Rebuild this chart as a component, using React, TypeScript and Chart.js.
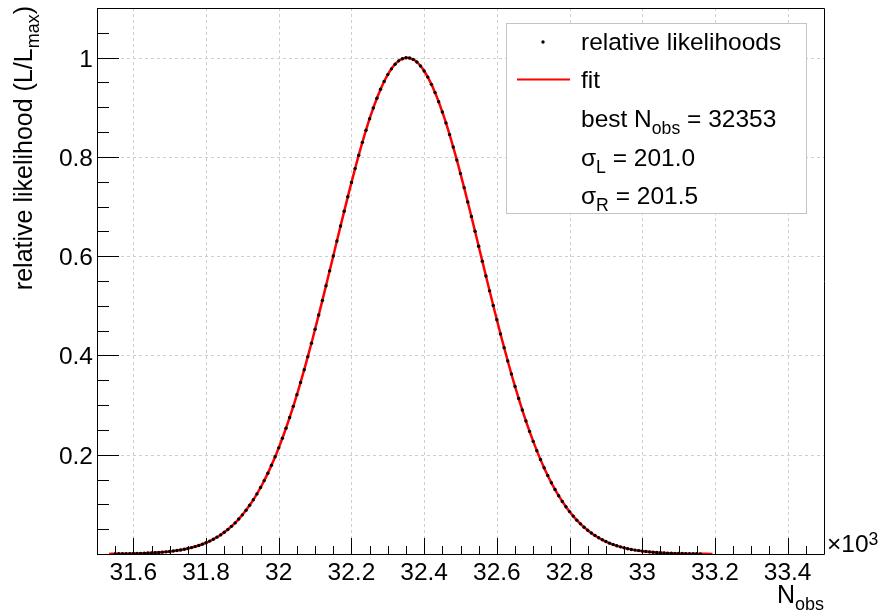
import React, { useEffect, useRef } from "react";
import { Chart, registerables } from "chart.js";

Chart.register(...registerables);

// Likelihood scan: one point every SCAN_STEP events, starting at SCAN_START
const SCAN_START = 31550;
const SCAN_STEP = 10;
const RELATIVE_LIKELIHOODS = [
  0.0003, 0.0004, 0.0005, 0.0006, 0.0007, 0.0009, 0.0011, 0.0013, 0.0016, 0.0019,
  0.0022, 0.0026, 0.0031, 0.0037, 0.0043, 0.0051, 0.006, 0.007, 0.0082, 0.0096,
  0.0111, 0.0129, 0.0149, 0.0172, 0.0198, 0.0227, 0.026, 0.0297, 0.0339, 0.0385,
  0.0437, 0.0494, 0.0557, 0.0627, 0.0704, 0.0789, 0.0881, 0.0982, 0.1092, 0.1211,
  0.134, 0.1479, 0.1628, 0.1788, 0.1958, 0.2139, 0.2332, 0.2535, 0.275, 0.2975,
  0.321, 0.3456, 0.3711, 0.3976, 0.4248, 0.4529, 0.4815, 0.5108, 0.5404, 0.5704,
  0.6005, 0.6307, 0.6607, 0.6905, 0.7198, 0.7485, 0.7764, 0.8034, 0.8293, 0.8538,
  0.877, 0.8985, 0.9183, 0.9362, 0.9521, 0.9658, 0.9774, 0.9866, 0.9935, 0.9979,
  0.9999,
  0.9994, 0.9964, 0.9911, 0.9833, 0.9732, 0.9608, 0.9462, 0.9296, 0.911, 0.8906,
  0.8685, 0.8449, 0.8199, 0.7936, 0.7664, 0.7382, 0.7093, 0.6799, 0.6501, 0.6201,
  0.59, 0.56, 0.5302, 0.5007, 0.4718, 0.4434, 0.4157, 0.3887, 0.3626, 0.3375,
  0.3133, 0.2901, 0.268, 0.247, 0.227, 0.2082, 0.1904, 0.1737, 0.1581, 0.1436,
  0.13, 0.1175, 0.1059, 0.0952, 0.0854, 0.0764, 0.0682, 0.0607, 0.0539, 0.0478,
  0.0422, 0.0372, 0.0327, 0.0287, 0.0251, 0.0219, 0.0191, 0.0166, 0.0144, 0.0124,
  0.0107, 0.0092, 0.0079, 0.0068, 0.0058, 0.0049, 0.0042, 0.0035, 0.003, 0.0025,
  0.0021, 0.0018, 0.0015, 0.0012, 0.001, 0.0009, 0.0007, 0.0006, 0.0005, 0.0004,
  0.0003,
];

// Fitted asymmetric Gaussian, tabulated every FIT_STEP from FIT_START
const FIT_START = 31533;
const FIT_STEP = 20;
const FIT_CURVE = [
  0.0002, 0.0004, 0.0005, 0.0008, 0.0011, 0.0016, 0.0023, 0.0033, 0.0046, 0.0063,
  0.0086, 0.0116, 0.0156, 0.0206, 0.0271, 0.0352, 0.0453, 0.0578, 0.0729, 0.0911,
  0.1127, 0.138, 0.1675, 0.2011, 0.2392, 0.2816, 0.3283, 0.379, 0.4332, 0.4902,
  0.5494, 0.6095, 0.6697, 0.7285, 0.7846, 0.8368, 0.8836, 0.9238, 0.9564, 0.9804, 0.9951,
  1.0,
  0.9951, 0.9805, 0.9566, 0.9242, 0.8841, 0.8375, 0.7856, 0.7296, 0.671, 0.611,
  0.551, 0.492, 0.435, 0.3808, 0.3301, 0.2834, 0.2409, 0.2027, 0.1689, 0.1394,
  0.1139, 0.0922, 0.0739, 0.0586, 0.046, 0.0358, 0.0276, 0.021, 0.0159, 0.0119,
  0.0088, 0.0064, 0.0047, 0.0034, 0.0024, 0.0017, 0.0012, 0.0008, 0.0006, 0.0004,
  0.0003, 0.0002,
];

const BEST_N_OBS = "32353";
const SIGMA_L = "201.0";
const SIGMA_R = "201.5";

const X_MIN = 31500;
const X_MAX = 33500;
const Y_MIN = 0;
const Y_MAX = 1.1;
const X_MAJOR_TICKS = [31600, 31800, 32000, 32200, 32400, 32600, 32800, 33000, 33200, 33400];
const X_TICK_LABELS = ["31.6", "31.8", "32", "32.2", "32.4", "32.6", "32.8", "33", "33.2", "33.4"];
const X_MINOR_STEP = 50;
const Y_MAJOR_TICKS = [0.2, 0.4, 0.6, 0.8, 1.0];
const Y_TICK_LABELS = ["0.2", "0.4", "0.6", "0.8", "1"];
const Y_MINOR_STEP = 0.05;

const FONT_FAMILY = '"Liberation Sans", Arial, Helvetica, sans-serif';
const TEXT_SIZE = 24.5;
const TITLE_SIZE = 25;
const SCRIPT_SCALE = 0.72;

type Part = { t: string; s?: "sub" | "sup" };

function fontOf(size: number) {
  return `${size}px ${FONT_FAMILY}`;
}

function drawRich(
  ctx: CanvasRenderingContext2D,
  parts: Part[],
  x: number,
  y: number,
  size: number,
  align: "left" | "right" | "center"
) {
  ctx.textAlign = "left";
  ctx.textBaseline = "alphabetic";
  const widths = parts.map((p) => {
    ctx.font = fontOf(p.s ? size * SCRIPT_SCALE : size);
    return ctx.measureText(p.t).width;
  });
  const total = widths.reduce((a, b) => a + b, 0);
  let cx = align === "right" ? x - total : align === "center" ? x - total / 2 : x;
  parts.forEach((p, i) => {
    ctx.font = fontOf(p.s ? size * SCRIPT_SCALE : size);
    const dy = p.s === "sub" ? size * 0.27 : p.s === "sup" ? -size * 0.3 : 0;
    ctx.fillText(p.t, cx, y + dy);
    cx += widths[i];
  });
}

const framePlugin = {
  id: "frameDecor",
  beforeDatasetsDraw(chart: any) {
    const { ctx, chartArea } = chart;
    const xs = chart.scales.x;
    const ys = chart.scales.y;
    ctx.save();
    ctx.strokeStyle = "#cfcfcf";
    ctx.lineWidth = 1;
    ctx.setLineDash([3, 3]);
    X_MAJOR_TICKS.forEach((v) => {
      const px = Math.round(xs.getPixelForValue(v)) + 0.5;
      ctx.beginPath();
      ctx.moveTo(px, chartArea.top);
      ctx.lineTo(px, chartArea.bottom);
      ctx.stroke();
    });
    Y_MAJOR_TICKS.forEach((v) => {
      const py = Math.round(ys.getPixelForValue(v)) + 0.5;
      ctx.beginPath();
      ctx.moveTo(chartArea.left, py);
      ctx.lineTo(chartArea.right, py);
      ctx.stroke();
    });
    ctx.restore();
  },
  afterDatasetsDraw(chart: any) {
    const { ctx, chartArea } = chart;
    const xs = chart.scales.x;
    const ys = chart.scales.y;
    const L = chartArea.left;
    const R = chartArea.right;
    const T = chartArea.top;
    const B = chartArea.bottom;
    ctx.save();

    // frame
    ctx.setLineDash([]);
    ctx.lineWidth = 1;
    ctx.strokeStyle = "#000";
    ctx.beginPath();
    ctx.moveTo(L + 0.5, T + 0.5);
    ctx.lineTo(R + 0.5, T + 0.5);
    ctx.lineTo(R + 0.5, B + 0.5);
    ctx.lineTo(L + 0.5, B + 0.5);
    ctx.closePath();
    ctx.stroke();

    // x ticks (inside, pointing up)
    ctx.beginPath();
    for (let v = X_MIN; v <= X_MAX; v += X_MINOR_STEP) {
      const px = Math.round(xs.getPixelForValue(v)) + 0.5;
      const major = X_MAJOR_TICKS.includes(v);
      ctx.moveTo(px, B);
      ctx.lineTo(px, B - (major ? 16 : 8));
    }
    ctx.stroke();

    // y ticks (inside, pointing right)
    ctx.beginPath();
    const nY = Math.round((Y_MAX - Y_MIN) / Y_MINOR_STEP);
    for (let i = 0; i <= nY; i++) {
      const v = Y_MIN + i * Y_MINOR_STEP;
      const py = Math.round(ys.getPixelForValue(v)) + 0.5;
      const major = i % 4 === 0;
      ctx.moveTo(L, py);
      ctx.lineTo(L + (major ? 22 : 12), py);
    }
    ctx.stroke();

    // tick labels
    ctx.fillStyle = "#000";
    ctx.font = fontOf(TEXT_SIZE);
    ctx.textBaseline = "alphabetic";
    ctx.textAlign = "center";
    X_MAJOR_TICKS.forEach((v, i) => {
      ctx.fillText(X_TICK_LABELS[i], xs.getPixelForValue(v), 580);
    });
    ctx.textAlign = "right";
    Y_MAJOR_TICKS.forEach((v, i) => {
      ctx.fillText(Y_TICK_LABELS[i], L - 4, ys.getPixelForValue(v) + 9);
    });

    // axis exponent and titles
    drawRich(ctx, [{ t: "\u00d710" }, { t: "3", s: "sup" }], R + 3, 552, TEXT_SIZE, "left");
    drawRich(ctx, [{ t: "N" }, { t: "obs", s: "sub" }], R, 603, TITLE_SIZE, "right");

    ctx.save();
    ctx.translate(32, T - 2);
    ctx.rotate(-Math.PI / 2);
    drawRich(
      ctx,
      [{ t: "relative likelihood (L/L" }, { t: "max", s: "sub" }, { t: ")" }],
      0,
      0,
      TITLE_SIZE,
      "right"
    );
    ctx.restore();

    // legend box
    const bx = 506, by = 23, bw = 300, bh = 190;
    ctx.fillStyle = "#fff";
    ctx.fillRect(bx, by, bw, bh);
    ctx.strokeStyle = "#c4c4c4";
    ctx.strokeRect(bx + 0.5, by + 0.5, bw, bh);

    ctx.fillStyle = "#000";
    ctx.beginPath();
    ctx.arc(543, 42, 1.7, 0, Math.PI * 2);
    ctx.fill();

    ctx.strokeStyle = "#ff0000";
    ctx.lineWidth = 2;
    ctx.beginPath();
    ctx.moveTo(517, 79.5);
    ctx.lineTo(570, 79.5);
    ctx.stroke();

    const tx = 581;
    drawRich(ctx, [{ t: "relative likelihoods" }], tx, 50, TEXT_SIZE, "left");
    drawRich(ctx, [{ t: "fit" }], tx, 88, TEXT_SIZE, "left");
    drawRich(
      ctx,
      [{ t: "best N" }, { t: "obs", s: "sub" }, { t: " = " + BEST_N_OBS }],
      tx,
      127,
      TEXT_SIZE,
      "left"
    );
    drawRich(ctx, [{ t: "\u03c3" }, { t: "L", s: "sub" }, { t: " = " + SIGMA_L }], tx, 166, TEXT_SIZE, "left");
    drawRich(ctx, [{ t: "\u03c3" }, { t: "R", s: "sub" }, { t: " = " + SIGMA_R }], tx, 204, TEXT_SIZE, "left");

    ctx.restore();
  },
};

export default function App() {
  const canvasRef = useRef<HTMLCanvasElement | null>(null);

  useEffect(() => {
    const canvas = canvasRef.current;
    if (!canvas) return;

    const scanPoints = RELATIVE_LIKELIHOODS.map((y, i) => ({ x: SCAN_START + i * SCAN_STEP, y }));
    const fitPoints = FIT_CURVE.map((y, i) => ({ x: FIT_START + i * FIT_STEP, y }));

    const chart = new Chart(canvas, {
      type: "scatter",
      data: {
        datasets: [
          {
            type: "scatter",
            label: "relative likelihoods",
            data: scanPoints,
            pointRadius: 1.7,
            pointBackgroundColor: "#000",
            pointBorderWidth: 0,
            order: 0,
          },
          {
            type: "line",
            label: "fit",
            data: fitPoints,
            borderColor: "#ff0000",
            borderWidth: 2.5,
            pointRadius: 0,
            fill: false,
            cubicInterpolationMode: "monotone",
            order: 1,
          } as any,
        ],
      },
      options: {
        responsive: false,
        animation: false,
        devicePixelRatio: 1,
        events: [],
        layout: { padding: { left: 0, right: 55, top: 8, bottom: 0 } },
        plugins: { legend: { display: false }, tooltip: { enabled: false } },
        scales: {
          x: {
            type: "linear",
            min: X_MIN,
            max: X_MAX,
            ticks: { display: false },
            grid: { display: false },
            border: { display: false },
            afterFit: (s: any) => {
              s.height = 59;
            },
          },
          y: {
            type: "linear",
            min: Y_MIN,
            max: Y_MAX,
            ticks: { display: false },
            grid: { display: false },
            border: { display: false },
            afterFit: (s: any) => {
              s.width = 97;
            },
          },
        },
      },
      plugins: [framePlugin],
    });

    return () => chart.destroy();
  }, []);

  return (
    <div style={{ position: "absolute", left: 0, top: 0, width: 879, height: 613, background: "#fff" }}>
      <canvas ref={canvasRef} width={879} height={613} style={{ display: "block", width: 879, height: 613 }} />
    </div>
  );
}
